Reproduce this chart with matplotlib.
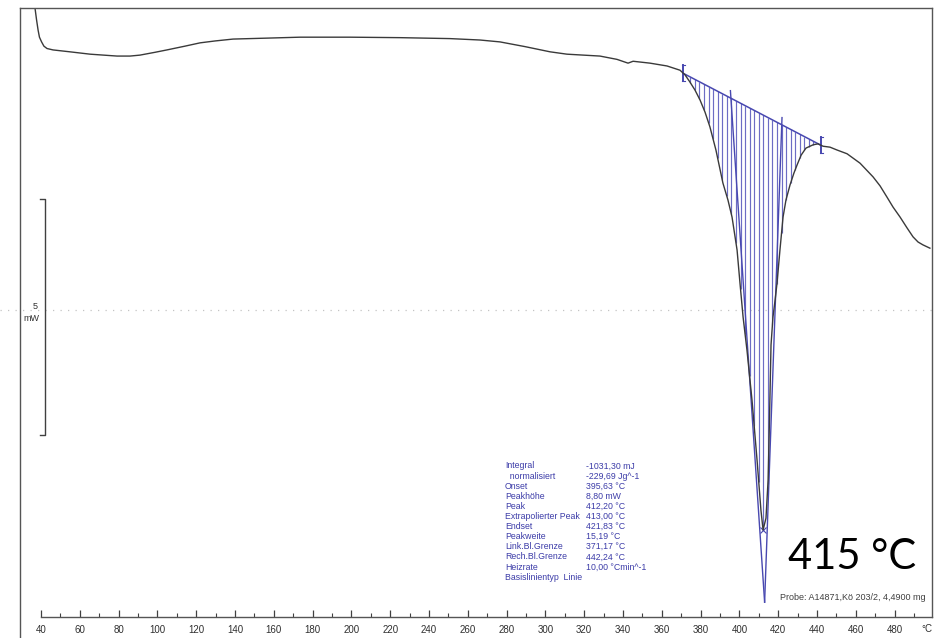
import numpy as np
import matplotlib.pyplot as plt
from matplotlib.lines import Line2D

# DSC curve: temperature (°C) and heat flow (mW)
temp = [36.6, 36.9, 37.7, 38.5, 39.2, 40.3, 41.5, 43.1, 46.2, 54.9, 65.3,
        79.2, 85.9, 91.0, 98.8, 104.9, 114.2, 122.0, 129.7, 139.0, 147.7,
        156.5, 173.5, 199.3, 225.1, 250.8, 266.3, 276.6, 289.5, 302.4, 311.1,
        328.1, 336.9, 342.6, 345.2, 353.9, 362.7, 369.4, 372.0, 374.5, 377.1,
        379.7, 382.3, 384.8, 387.9, 391.5, 394.1, 396.2, 398.8, 400.3, 401.9,
        403.9, 406.5, 409.1, 411.1, 412.2, 413.7, 414.8, 415.5, 416.3, 417.3,
        418.4, 419.4, 420.9, 422.5, 424.0, 426.1, 428.1, 429.7, 431.8, 434.3,
        438.0, 440.5, 443.1, 446.7, 450.3, 455.5, 462.2, 468.9, 472.5, 476.1,
        479.2, 482.8, 486.4, 489.5, 492.1, 494.6, 498.2]
heat = [6.55, 6.40, 6.15, 5.93, 5.78, 5.68, 5.59, 5.54, 5.51, 5.47, 5.42,
        5.38, 5.38, 5.40, 5.46, 5.51, 5.59, 5.66, 5.70, 5.74, 5.75,
        5.76, 5.78, 5.78, 5.77, 5.75, 5.72, 5.68, 5.58, 5.47, 5.42,
        5.38, 5.31, 5.23, 5.27, 5.23, 5.17, 5.08, 4.98, 4.83, 4.66,
        4.45, 4.19, 3.88, 3.39, 2.69, 2.33, 1.97, 1.27, 0.57, -0.15,
        -0.85, -1.91, -3.18, -4.24, -4.66, -4.41, -3.60, -2.33, -0.74, -0.15,
        0.21, 0.57, 1.27, 1.97, 2.33, 2.65, 2.90, 3.07, 3.28, 3.43,
        3.50, 3.52, 3.47, 3.45, 3.39, 3.31, 3.11, 2.82, 2.63, 2.39,
        2.18, 1.97, 1.74, 1.55, 1.44, 1.38, 1.31]

# peak evaluation (values from the result table)
left_limit, right_limit = 371.17, 442.24
onset, endset = 395.63, 421.83
peak_t, extrap_peak_t = 412.20, 413.00
extrap_peak_y = -6.19

labels = ["Integral", "  normalisiert", "Onset", "Peakhöhe", "Peak",
          "Extrapolierter Peak", "Endset", "Peakweite", "Link.Bl.Grenze",
          "Rech.Bl.Grenze", "Heizrate", "Basislinientyp  Linie"]
values = ["-1031,30 mJ", "-229,69 Jg^-1", "395,63 °C", "8,80 mW", "412,20 °C",
          "413,00 °C", "421,83 °C", "15,19 °C", "371,17 °C", "442,24 °C",
          "10,00 °Cmin^-1", ""]

xticks_major = list(range(40, 481, 20))
xticks_minor = list(range(50, 491, 20))

W, H = 936, 638
px_deg = 1.94     # pixels per °C
px_mw = 47.2      # pixels per mW
x0_px, y0_px = 41, 310   # 40 °C, 0 mW
l_px, r_px, t_px, b_px = 20, 932, 8, 617

def to_t(xp):
    return 40 + (xp - x0_px) / px_deg

def to_mw(yp):
    return (y0_px - yp) / px_mw

fig = plt.figure(figsize=(W / 100, H / 100), dpi=100)
ax = fig.add_axes([l_px / W, 1 - b_px / H, (r_px - l_px) / W, (b_px - t_px) / H])
ax.set_xlim(to_t(l_px), to_t(r_px))
ax.set_ylim(to_mw(b_px), to_mw(t_px))

frame = '#555555'
blue = '#4848b0'
hatch = '#6c6cc4'
txtblue = '#3c3ca8'

# frame
for s in ['top', 'right', 'bottom']:
    ax.spines[s].set_color(frame)
    ax.spines[s].set_linewidth(1.0)
ax.spines['left'].set_visible(False)
ax.spines['bottom'].set_bounds(40, to_t(r_px))
fig.add_artist(Line2D([l_px / W] * 2, [0, 1 - t_px / H], color=frame, lw=1.0))

ax.set_yticks([])
ax.set_xticks(xticks_major)
ax.set_xticks(xticks_minor, minor=True)
ax.tick_params(axis='x', which='both', direction='in', color='#404040',
               labelsize=7, labelcolor='#303030', pad=5.5)
ax.tick_params(axis='x', which='major', length=5, width=0.9)
ax.tick_params(axis='x', which='minor', length=3, width=0.8)
for lab in ax.get_xticklabels():
    lab.set_family('Liberation Sans')
fig.text(927 / W, 1 - 629 / H, '°C', ha='center', va='center', fontsize=7,
         color='#303030', family='Liberation Sans')

# dotted zero line
ax.plot([to_t(0), to_t(W)], [0, 0], ls=(0, (1, 5)), color='#c4c4c4', lw=0.9,
        clip_on=False)

# 5 mW scale bar
ax.plot([to_t(40), to_t(45), to_t(45), to_t(40)], [2.35, 2.35, -2.65, -2.65],
        color='#404040', lw=1.0)
ax.text(to_t(38), 0.08, '5', ha='right', va='center', fontsize=6.5,
        color='#303030', family='Liberation Sans')
ax.text(to_t(39), -0.18, 'mW', ha='right', va='center', fontsize=6.5,
        color='#303030', family='Liberation Sans')

# evaluated peak: baseline, hatching, tangents
t = np.array(temp)
h = np.array(heat)
y_left = np.interp(left_limit, t, h)
y_right = np.interp(right_limit, t, h)

def base(x):
    return y_left + (x - left_limit) / (right_limit - left_limit) * (y_right - y_left)

hx = np.arange(left_limit + 1.2, right_limit - 0.5, 2.35)
ax.vlines(hx, np.interp(hx, t, h), base(hx), color=hatch, lw=0.85)
ax.plot([left_limit, right_limit], [y_left, y_right], color=blue, lw=1.1)
for xe, ye in [(left_limit, y_left), (right_limit, y_right)]:
    ax.plot([xe, xe], [ye - 0.17, ye + 0.17], color=blue, lw=1.4)
    ax.plot([xe - 0.6, xe + 0.6], [ye + 0.17, ye + 0.17], color=blue, lw=0.8)
    ax.plot([xe - 0.6, xe + 0.6], [ye - 0.17, ye - 0.17], color=blue, lw=0.8)

for xt in [onset, endset]:
    yb = base(xt)
    k = 0.015
    xs = [xt - k * (extrap_peak_t - xt), extrap_peak_t]
    ys = [yb + k * (yb - extrap_peak_y), extrap_peak_y]
    ax.plot(xs, ys, color=blue, lw=1.0)
ax.plot([peak_t], [np.interp(peak_t, t, h)], marker='x', ms=4, mew=0.8, color=blue)

# measured curve
ax.plot(temp, heat, color='#3a3a3a', lw=1.0, solid_joinstyle='round')

# result table
row0, dy = 466, 10.1
for i, (lab, val) in enumerate(zip(labels, values)):
    y = 1 - (row0 + i * dy) / H
    fig.text(505 / W, y, lab, ha='left', va='center', fontsize=6.3,
             color=txtblue, family='Liberation Sans')
    fig.text(586 / W, y, val, ha='left', va='center', fontsize=6.3,
             color=txtblue, family='Liberation Sans')

fig.text(780 / W, 1 - 597 / H, 'Probe: A14871,Kö 203/2, 4,4900 mg', ha='left',
         va='center', fontsize=6.5, color='#404040', family='Liberation Sans')
fig.text(852 / W, 1 - 557 / H, '415 °C', ha='center', va='center', fontsize=30,
         color='black', family='Lato')

fig.savefig('out.png', dpi=100)
